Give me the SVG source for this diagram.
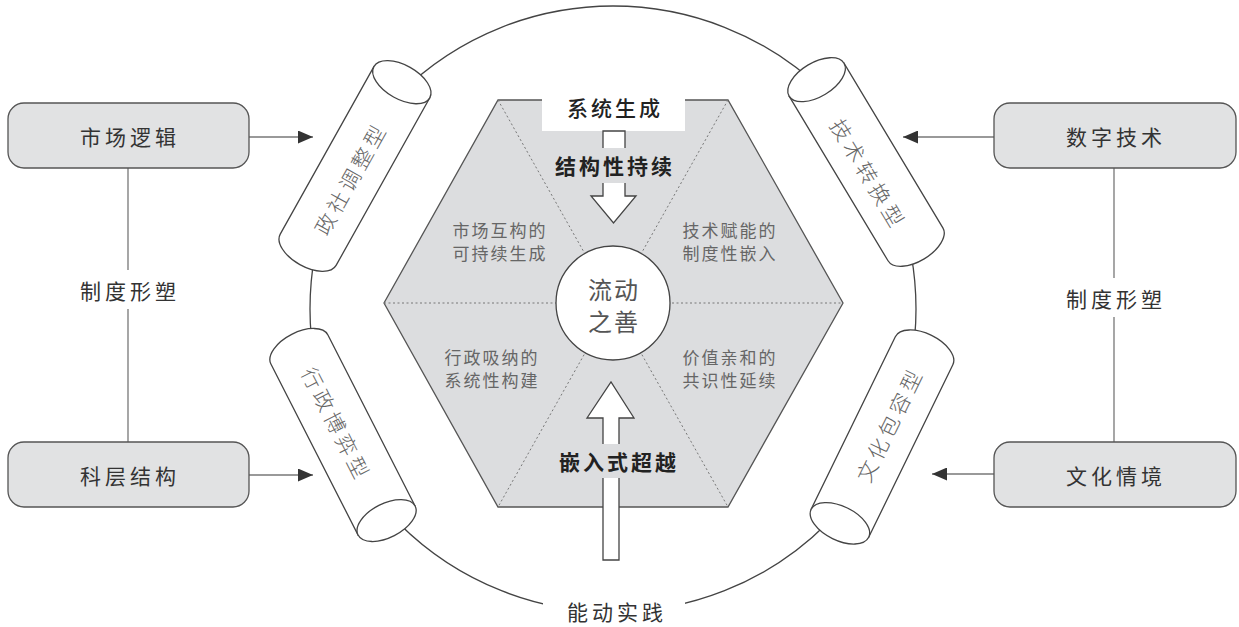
<svg xmlns="http://www.w3.org/2000/svg" width="1239" height="627" viewBox="0 0 1239 627">
<style>
text{font-family:"Noto Sans CJK SC","Noto Sans",sans-serif;}
.box{fill:#e1e2e3;stroke:#555;stroke-width:1.3;}
.blab{font-size:21px;fill:#333;letter-spacing:4px;text-anchor:middle;dominant-baseline:central;}
.conn{stroke:#777;stroke-width:1.3;fill:none;}
.cyl{fill:#fff;stroke:#444;stroke-width:1.3;}
.ctxt{font-size:21px;fill:#666;font-weight:300;letter-spacing:4px;text-anchor:middle;dominant-baseline:central;}
.quad{font-size:17px;fill:#666;letter-spacing:2px;text-anchor:middle;dominant-baseline:central;}
.dash{stroke:#777;stroke-width:1;stroke-dasharray:2 2.5;fill:none;}
.big{font-size:21px;fill:#222;font-weight:bold;letter-spacing:3px;text-anchor:middle;dominant-baseline:central;}
.ctr{font-size:24px;fill:#555;letter-spacing:2px;text-anchor:middle;dominant-baseline:central;}
.warrow{fill:#fff;stroke:#444;stroke-width:1.3;}
</style>
<defs>
<marker id="ah" viewBox="0 0 15 13" refX="15" refY="6.5" markerWidth="15" markerHeight="13" markerUnits="userSpaceOnUse" orient="auto">
<path d="M0,0 L15,6.5 L0,13 Z" fill="#333"/>
</marker>
<g id="cylshape">
<path class="cyl" d="M96,-32 L-96,-32 A17,32 0 0 0 -96,32 L96,32 Z"/>
<ellipse class="cyl" cx="96" cy="0" rx="17" ry="32"/>
</g>
</defs>
<rect width="1239" height="627" fill="#fff"/>

<!-- outer circle -->
<g id="ring">
<circle cx="613" cy="309" r="303" fill="none" stroke="#444" stroke-width="1.3"/>
<rect x="543" y="595" width="142" height="32" fill="#fff"/>
<text class="blab" x="617" y="611">能动实践</text>
</g>

<!-- connectors -->
<g id="connectors">
<line class="conn" x1="249" y1="137" x2="313" y2="137" marker-end="url(#ah)"/>
<line class="conn" x1="249" y1="475" x2="313" y2="475" marker-end="url(#ah)"/>
<line class="conn" x1="994" y1="137" x2="903" y2="137" marker-end="url(#ah)"/>
<line class="conn" x1="994" y1="474" x2="932" y2="474" marker-end="url(#ah)"/>
<line class="conn" x1="128" y1="168" x2="128" y2="270"/>
<line class="conn" x1="128" y1="309" x2="128" y2="442"/>
<line class="conn" x1="1114" y1="168" x2="1114" y2="278"/>
<line class="conn" x1="1114" y1="317" x2="1114" y2="442"/>
<text class="blab" x="130" y="290">制度形塑</text>
<text class="blab" x="1116" y="298">制度形塑</text>
</g>

<!-- side boxes -->
<g id="n-market"><rect class="box" x="8" y="103" width="241" height="65" rx="16"/><text class="blab" x="130" y="136">市场逻辑</text></g>
<g id="n-bureau"><rect class="box" x="8" y="442" width="241" height="65" rx="16"/><text class="blab" x="130" y="475">科层结构</text></g>
<g id="n-digital"><rect class="box" x="994" y="103" width="242" height="65" rx="16"/><text class="blab" x="1116" y="136">数字技术</text></g>
<g id="n-culture"><rect class="box" x="994" y="442" width="242" height="65" rx="16"/><text class="blab" x="1116" y="475">文化情境</text></g>

<!-- cylinders -->
<g id="cyl-zhengshe">
<use href="#cylshape" transform="translate(355,166) rotate(-60.8)"/>
<text class="ctxt" transform="translate(350,178) rotate(-60.8)">政社调整型</text>
</g>
<g id="cyl-xingzheng">
<use href="#cylshape" transform="translate(343,435) rotate(63)"/>
<text class="ctxt" transform="translate(337,424) rotate(63)">行政博弈型</text>
</g>
<g id="cyl-jishu">
<use href="#cylshape" transform="translate(866,162) rotate(-121)"/>
<text class="ctxt" transform="translate(869,174) rotate(59)">技术转换型</text>
</g>
<g id="cyl-wenhua">
<use href="#cylshape" transform="translate(882,437) rotate(116)"/>
<text class="ctxt" transform="translate(889,424) rotate(-64)">文化包容型</text>
</g>

<!-- hexagon -->
<g id="hexagon">
<polygon points="498,100 728,100 843,303 728,507 498,507 384,303" fill="#dcdddf" stroke="#555" stroke-width="1.3"/>
<line class="dash" x1="498" y1="100" x2="728" y2="507"/>
<line class="dash" x1="728" y1="100" x2="498" y2="507"/>
<line class="dash" x1="384" y1="303" x2="843" y2="303"/>
<text class="quad" x="500" y="229">市场互构的</text>
<text class="quad" x="500" y="252">可持续生成</text>
<text class="quad" x="730" y="229">技术赋能的</text>
<text class="quad" x="730" y="252">制度性嵌入</text>
<text class="quad" x="492" y="356">行政吸纳的</text>
<text class="quad" x="492" y="379">系统性构建</text>
<text class="quad" x="730" y="356">价值亲和的</text>
<text class="quad" x="730" y="379">共识性延续</text>
</g>

<!-- top: 系统生成 -> 结构性持续 -->
<g id="n-system">
<rect x="542" y="86" width="143" height="45" fill="#fff"/>
<text class="big" x="615" y="107" style="font-weight:500">系统生成</text>
</g>
<g id="arrow-down">
<polygon class="warrow" points="603,131 625,131 625,196 636,196 613.5,223 591,196 603,196"/>
<rect x="547" y="148" width="133" height="35" fill="#dcdddf"/>
<text class="big" x="615" y="165">结构性持续</text>
</g>

<!-- bottom: 嵌入式超越 -->
<g id="arrow-up">
<polygon class="warrow" points="603,560 619,560 619,418 634,418 611,382 587,418 603,418"/>
<rect x="551" y="444" width="132" height="34" fill="#dcdddf"/>
<text class="big" x="619" y="461">嵌入式超越</text>
</g>

<!-- center -->
<g id="n-center">
<circle cx="613" cy="303" r="57" fill="#fff" stroke="#444" stroke-width="1.3"/>
<text class="ctr" x="614" y="288">流动</text>
<text class="ctr" x="614" y="320">之善</text>
</g>
</svg>
